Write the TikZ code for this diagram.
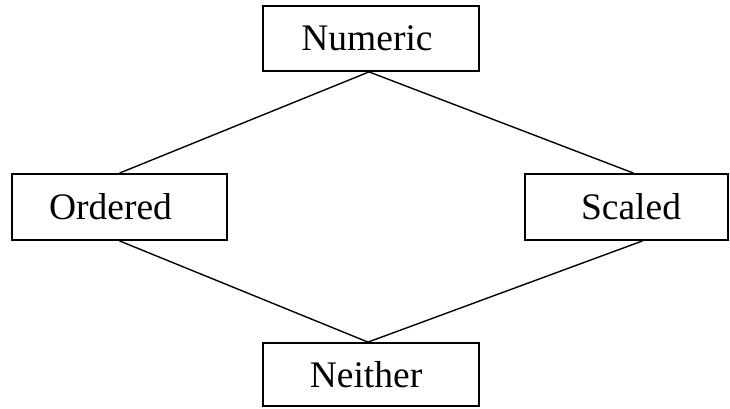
\documentclass[tikz,border=0pt]{standalone}
\usepackage{fontspec}
\setmainfont{Liberation Serif}
\begin{document}
\begin{tikzpicture}[x=1pt,y=-1pt,
  box/.style={draw,line width=1.8pt,rectangle,inner sep=0pt,font=\fontsize{37.5}{40}\selectfont},
  link/.style={line width=1.4pt}]
\useasboundingbox[fill=white] (0,0) rectangle (730,408);
\node[box,minimum width=216pt,minimum height=65pt] (num) at (371,38.5) {\hspace*{-8pt}Numeric};
\node[box,minimum width=215pt,minimum height=66pt] (ord) at (119.5,207) {\hspace*{-18pt}Ordered};
\node[box,minimum width=203pt,minimum height=66pt] (sca) at (626.5,207) {\hspace*{9pt}Scaled};
\node[box,minimum width=216pt,minimum height=63pt] (nei) at (371,374.5) {\hspace*{-10pt}Neither};
\draw[link] ([xshift=-2pt]num.south) -- (ord.north);
\draw[link] ([xshift=-2pt]num.south) -- ([xshift=7pt]sca.north);
\draw[link] (ord.south) -- ([xshift=-3pt]nei.north);
\draw[link] ([xshift=16pt]sca.south) -- ([xshift=-3pt]nei.north);
\end{tikzpicture}
\end{document}
